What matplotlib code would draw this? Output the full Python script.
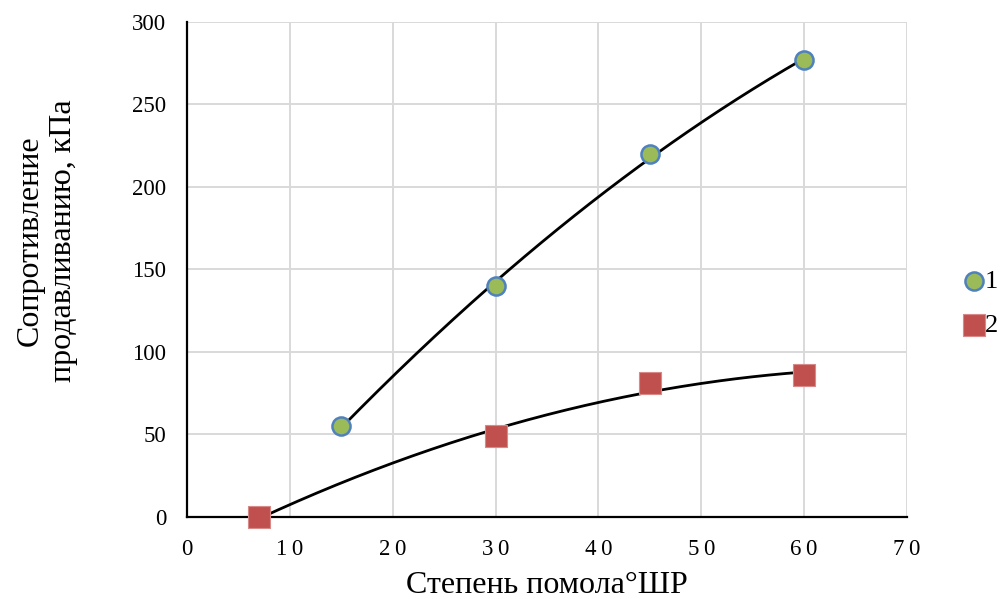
import numpy as np
import matplotlib
matplotlib.use("Agg")
import matplotlib.pyplot as plt

plt.rcParams['font.family'] = ['Liberation Serif', 'DejaVu Serif']

# series 1
x1 = [15, 30, 45, 60]
y1 = [55, 140, 220, 277]
# series 2
x2 = [7, 30, 45, 60]
y2 = [0, 49, 81, 86]

xticks = [0, 10, 20, 30, 40, 50, 60, 70]
yticks = [0, 50, 100, 150, 200, 250, 300]

fig = plt.figure(figsize=(10.02, 5.99), dpi=100)
ax = fig.add_axes([0.1866, 0.1369, 0.7186, 0.8264])

# trendlines (2nd order polynomial, like Excel)
for xs, ys in [(x1, y1), (x2, y2)]:
    c = np.polyfit(xs, ys, 2)
    xx = np.linspace(min(xs), max(xs), 200)
    ax.plot(xx, np.polyval(c, xx), color='black', lw=2, zorder=3)

ax.scatter(x1, y1, s=170, marker='o', facecolor='#9bbb59', edgecolor='#4f81bd',
           linewidth=1.8, zorder=4, label='1', clip_on=False)
ax.scatter(x2, y2, s=250, marker='s', facecolor='#c0504d', edgecolor='#d88a88',
           linewidth=0.8, zorder=4, label='2', clip_on=False)

ax.set_xlim(0, 70)
ax.set_ylim(0, 300)
ax.set_xticks(xticks)
ax.set_yticks(yticks)
ax.set_xticklabels(['\u2009'.join(str(t)) for t in xticks])
ax.grid(True, color='#d9d9d9', lw=1.4)
ax.set_axisbelow(True)
for s in ['top', 'right']:
    ax.spines[s].set_visible(False)
for s in ['left', 'bottom']:
    ax.spines[s].set_color('black')
    ax.spines[s].set_linewidth(1.6)
    ax.spines[s].set_zorder(2.5)
ax.tick_params(length=0, labelsize=16.5)
ax.tick_params(axis='y', pad=15)
ax.tick_params(axis='x', pad=16)

ax.set_xlabel('Степень помола°ШР', fontsize=23, labelpad=8)
ax.set_ylabel('Сопротивление\nпродавливанию, кПа', fontsize=23,
              linespacing=1.15)
ax.yaxis.set_label_coords(-0.152, 0.558)

fig.legend(loc='center left', bbox_to_anchor=(0.963, 0.494), frameon=False,
           fontsize=19, handlelength=0.7, handletextpad=0.05, labelspacing=0.8,
           borderpad=0, borderaxespad=0)

fig.savefig('out.png', dpi=100)
